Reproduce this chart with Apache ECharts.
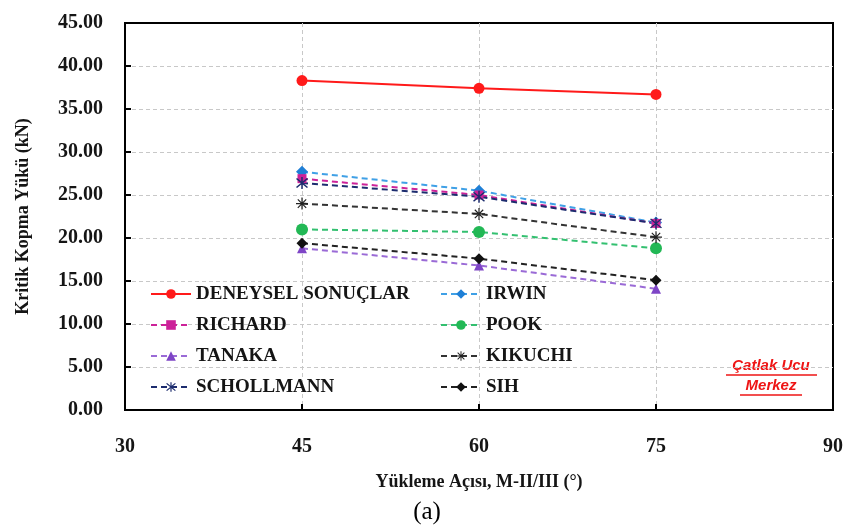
<!DOCTYPE html>
<html>
<head>
<meta charset="utf-8">
<script src="https://cdn.jsdelivr.net/npm/echarts@6/dist/echarts.min.js"></script>
<style>html,body{margin:0;padding:0;background:#fff;}#c{width:846px;height:529px;}</style>
</head>
<body>
<div id="c"></div>
<script>
const angles = [45, 60, 75];
const deneysel = [38.3, 37.4, 36.7];
const irwin = [27.7, 25.5, 21.8];
const richard = [26.9, 25.0, 21.7];
const pook = [21.0, 20.7, 18.8];
const tanaka = [18.8, 16.8, 14.1];
const kikuchi = [24.0, 22.8, 20.1];
const schollmann = [26.4, 24.8, 21.7];
const sih = [19.4, 17.6, 15.1];
const yTicks = [0, 5, 10, 15, 20, 25, 30, 35, 40, 45];
const xTicks = [30, 45, 60, 75, 90];

const asterisk = 'path://M-1,-10L1,-10L1,10L-1,10Z M-10,-1L10,-1L10,1L-10,1Z M-7.7,-6.3L-6.3,-7.7L7.7,6.3L6.3,7.7Z M6.3,-7.7L7.7,-6.3L-6.3,7.7L-7.7,6.3Z';
const xstar = 'path://M-1,-10L1,-10L1,10L-1,10Z M-8.2,-6.8L-6.8,-8.2L8.2,6.8L6.8,8.2Z M6.8,-8.2L8.2,-6.8L-6.8,8.2L-8.2,6.8Z';

function pts(arr){ return angles.map((a,i)=>[a, arr[i]]); }
const dash = [6,4];
function mk(name, data, color, symbol, size, solid, lineColor){
  return {
    name, type:'line', data: pts(data), symbol, symbolSize: size,
    itemStyle:{color: color},
    lineStyle:{color: lineColor||color, width: 2, type: solid ? 'solid' : dash},
    emphasis:{disabled:true}, animation:false
  };
}
const series = [
  mk('DENEYSEL SONUÇLAR', deneysel, '#ff1a1a', 'circle', 11, true),
  mk('IRWIN', irwin, '#1f7fd6', 'diamond', 12, false, '#3fa0e6'),
  mk('RICHARD', richard, '#cc2299', 'rect', 9, false),
  mk('POOK', pook, '#22b855', 'circle', 12, false, '#33c070'),
  mk('TANAKA', tanaka, '#7e45c6', 'triangle', 10, false, '#9a6ad6'),
  mk('KIKUCHI', kikuchi, '#222222', asterisk, 12, false, '#333333'),
  mk('SCHOLLMANN', schollmann, '#1c2c6e', xstar, 12, false),
  mk('SIH', sih, '#111111', 'diamond', 11, false, '#222222')
];

const legendText = {fontFamily:'Liberation Serif', fontWeight:'bold', fontSize:19, color:'#151515', lineHeight:20};
const splitStyle = {show:true, showMinLine:false, showMaxLine:false, lineStyle:{color:'#c8c8c8', type:[4,3], width:1}};
const chart = echarts.init(document.getElementById('c'), null, {renderer:'canvas'});
chart.setOption({
  backgroundColor:'#fff',
  animation:false,
  grid:{left:125, right:12, top:23, bottom:119, show:true, borderColor:'#000', borderWidth:2, backgroundColor:'transparent'},
  legend:[
    {data:['DENEYSEL SONUÇLAR','RICHARD','TANAKA','SCHOLLMANN'], orient:'vertical', left:150, top:284, padding:0, itemWidth:40, itemHeight:12, itemGap:11, textStyle:legendText, selectedMode:false},
    {data:['IRWIN','POOK','KIKUCHI','SIH'], orient:'vertical', left:440, top:284, padding:0, itemWidth:40, itemHeight:12, itemGap:11, textStyle:legendText, selectedMode:false}
  ],
  xAxis:{
    type:'value', min:xTicks[0], max:xTicks[xTicks.length-1], interval:15,
    name:'Yükleme Açısı, M-II/III (°)', nameLocation:'middle', nameGap:63,
    nameTextStyle:{fontFamily:'Liberation Serif', fontWeight:'bold', fontSize:18, color:'#151515'},
    axisLine:{lineStyle:{color:'#000', width:2}},
    axisTick:{inside:true, length:6, lineStyle:{color:'#000', width:2}},
    axisLabel:{margin:27, fontFamily:'Liberation Serif', fontWeight:'bold', fontSize:20, color:'#151515'},
    splitLine:splitStyle
  },
  yAxis:{
    type:'value', min:yTicks[0], max:yTicks[yTicks.length-1], interval:5,
    name:'Kritik Kopma Yükü (kN)', nameLocation:'middle', nameGap:93,
    nameTextStyle:{fontFamily:'Liberation Serif', fontWeight:'bold', fontSize:18, color:'#151515'},
    axisLine:{lineStyle:{color:'#000', width:2}},
    axisTick:{inside:true, length:6, lineStyle:{color:'#000', width:2}},
    axisLabel:{margin:22, fontFamily:'Liberation Serif', fontWeight:'bold', fontSize:20, color:'#151515', formatter:v=>v.toFixed(2)},
    splitLine:splitStyle
  },
  series,
  graphic:[
    {type:'text', style:{text:'Çatlak Ucu', x:771, y:366, align:'center', verticalAlign:'middle', fontFamily:'Liberation Sans', fontStyle:'italic', fontWeight:'bold', fontSize:15, fill:'#ee1515'}},
    {type:'line', shape:{x1:726, y1:375, x2:817, y2:375}, style:{stroke:'#ee1515', lineWidth:1.5}},
    {type:'text', style:{text:'Merkez', x:771, y:386, align:'center', verticalAlign:'middle', fontFamily:'Liberation Sans', fontStyle:'italic', fontWeight:'bold', fontSize:15, fill:'#ee1515'}},
    {type:'line', shape:{x1:740, y1:395, x2:802, y2:395}, style:{stroke:'#ee1515', lineWidth:1.5}},
    {type:'text', style:{text:'(a)', x:427, y:512, align:'center', verticalAlign:'middle', fontFamily:'Liberation Serif', fontSize:25, fill:'#000'}}
  ]
});
</script>
</body>
</html>
